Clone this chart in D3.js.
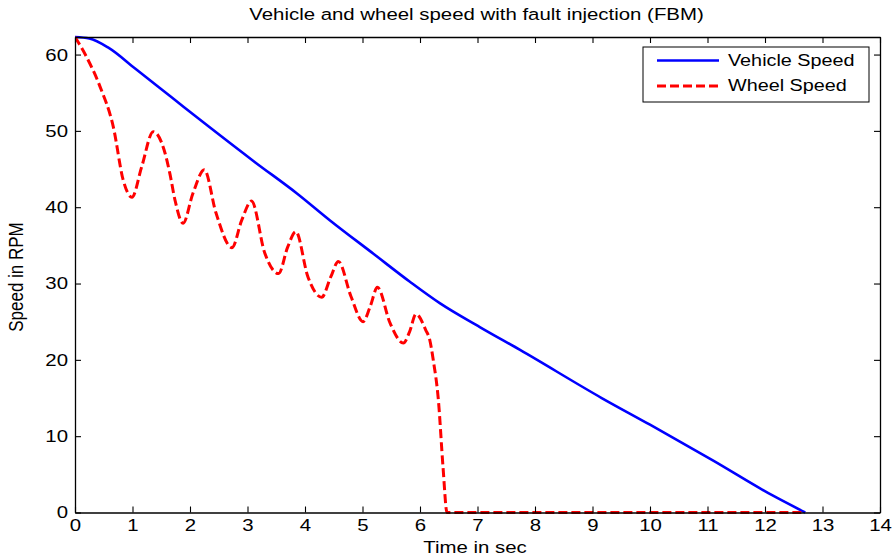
<!DOCTYPE html>
<html><head><meta charset="utf-8">
<script src="https://cdn.jsdelivr.net/npm/d3@7"></script>
<style>
body{margin:0;background:#fff}
svg{display:block}
text{font-family:"Liberation Sans",Arial,sans-serif;fill:#000}
</style>
</head><body><svg id="c" width="892" height="558"></svg>
<script>
const titleText = "Vehicle and wheel speed with fault injection (FBM)";
const xLabel = "Time in sec";
const yLabel = "Speed in RPM";
const seriesNames = ["Vehicle Speed", "Wheel Speed"];
const xTickValues = [0,1,2,3,4,5,6,7,8,9,10,11,12,13,14];
const yTickValues = [0,10,20,30,40,50,60];

const vehicleTime  = [0, 0.25, 0.58, 1.04, 1.68, 2.32, 3.13, 3.86, 4.43, 5.19, 5.83, 6.35, 7.04, 7.74, 9.16, 10, 11.1, 12.14, 12.7];
const vehicleSpeed = [62.3, 62.1, 60.9, 58.2, 54.4, 50.6, 45.9, 41.8, 38.3, 33.9, 30.2, 27.4, 24.3, 21.3, 15.0, 11.5, 6.8, 2.2, 0];

const wheelTime  = [0, 0.2, 0.435, 0.667, 0.84, 0.99, 1.16, 1.36, 1.55, 1.65, 1.74, 1.88, 2.05, 2.25, 2.45, 2.73, 2.9, 3.07, 3.3, 3.54, 3.7, 3.84, 4.05, 4.29, 4.45, 4.58, 4.8, 5.01, 5.13, 5.26, 5.48, 5.71, 5.82, 5.93, 6.1, 6.17, 6.23, 6.32, 6.4, 6.47, 12.7];
const wheelSpeed = [62.3, 59.7, 55.8, 50.5, 43.5, 41.3, 45.3, 49.9, 47.5, 44.4, 40.9, 37.9, 41.8, 44.9, 39.3, 34.7, 38.3, 40.8, 34.0, 31.3, 34.8, 36.8, 30.9, 28.2, 30.9, 32.9, 28.3, 25.0, 26.9, 29.5, 24.8, 22.2, 23.7, 26.0, 23.9, 22.6, 20.0, 14.7, 6.0, 0, 0];

const SX = 1.2;
const svg = d3.select("#c");
const x = d3.scaleLinear().domain([0, 14]).range([75, 880]);
const y = d3.scaleLinear().domain([0, 62.3]).range([512.5, 37]);

svg.append("rect").attr("width", 892).attr("height", 558).attr("fill", "#fff");

svg.append("defs").append("clipPath").attr("id", "clip")
  .append("rect").attr("x", 75).attr("y", 35).attr("width", 805).attr("height", 480);

const vehicleData = vehicleTime.map((t, i) => [t, vehicleSpeed[i]]);
const wheelData = wheelTime.map((t, i) => [t, wheelSpeed[i]]);
const line = d3.line().x(d => x(d[0])).y(d => y(d[1])).curve(d3.curveMonotoneX);

const g = svg.append("g").attr("clip-path", "url(#clip)");
g.append("path").datum(vehicleData).attr("d", line)
  .attr("fill", "none").attr("stroke", "#0000ff").attr("stroke-width", 2.6);
g.append("path").datum(wheelData).attr("d", line)
  .attr("fill", "none").attr("stroke", "#ff0000").attr("stroke-width", 3)
  .attr("stroke-dasharray", "9,4");

function styleAxis(sel) {
  sel.select(".domain").attr("stroke", "#000").attr("stroke-width", 1.3);
  sel.selectAll(".tick line").attr("stroke", "#000").attr("stroke-width", 1.1);
  sel.selectAll(".tick text").attr("font-size", 17).attr("fill", "#000")
    .attr("font-family", "Liberation Sans, Arial, sans-serif")
    .attr("transform", `scale(${SX},1)`);
}
svg.append("g").attr("transform", "translate(0,512.5)")
  .call(d3.axisBottom(x).tickValues(xTickValues).tickFormat(d3.format("d"))
    .tickSizeInner(-6).tickSizeOuter(0).tickPadding(6.5))
  .call(styleAxis);
svg.append("g").attr("transform", "translate(0,37)")
  .call(d3.axisTop(x).tickValues(xTickValues).tickFormat("")
    .tickSizeInner(-6).tickSizeOuter(0))
  .call(styleAxis);
svg.append("g").attr("transform", "translate(75,0)")
  .call(d3.axisLeft(y).tickValues(yTickValues).tickFormat(d3.format("d"))
    .tickSizeInner(-6).tickSizeOuter(0).tickPadding(5.8))
  .call(styleAxis);
svg.append("g").attr("transform", "translate(880,0)")
  .call(d3.axisRight(y).tickValues(yTickValues).tickFormat("")
    .tickSizeInner(-6).tickSizeOuter(0))
  .call(styleAxis);

svg.append("text").attr("transform", `translate(476.5,20) scale(${SX},1)`)
  .attr("text-anchor", "middle").attr("font-size", 17).text(titleText);
svg.append("text").attr("transform", `translate(475,553) scale(${SX},1)`)
  .attr("text-anchor", "middle").attr("font-size", 17).text(xLabel);
svg.append("text").attr("transform", `translate(23,277) scale(${SX},1) rotate(-90)`)
  .attr("text-anchor", "middle").attr("font-size", 17).text(yLabel);

const lg = svg.append("g");
lg.append("rect").attr("x", 643).attr("y", 47).attr("width", 226).attr("height", 55)
  .attr("fill", "#fff").attr("stroke", "#000").attr("stroke-width", 1);
const legendStyles = [
  {color: "#0000ff", dash: null, w: 2.6, ly: 60.5, ty: 66},
  {color: "#ff0000", dash: "9,4", w: 3, ly: 86, ty: 91}
];
seriesNames.forEach((name, i) => {
  const s = legendStyles[i];
  lg.append("line").attr("x1", 657).attr("x2", 719).attr("y1", s.ly).attr("y2", s.ly)
    .attr("stroke", s.color).attr("stroke-width", s.w)
    .attr("stroke-dasharray", s.dash);
  lg.append("text").attr("transform", `translate(728,${s.ty}) scale(${SX},1)`)
    .attr("font-size", 16.5).text(name);
});
</script>
</body></html>
